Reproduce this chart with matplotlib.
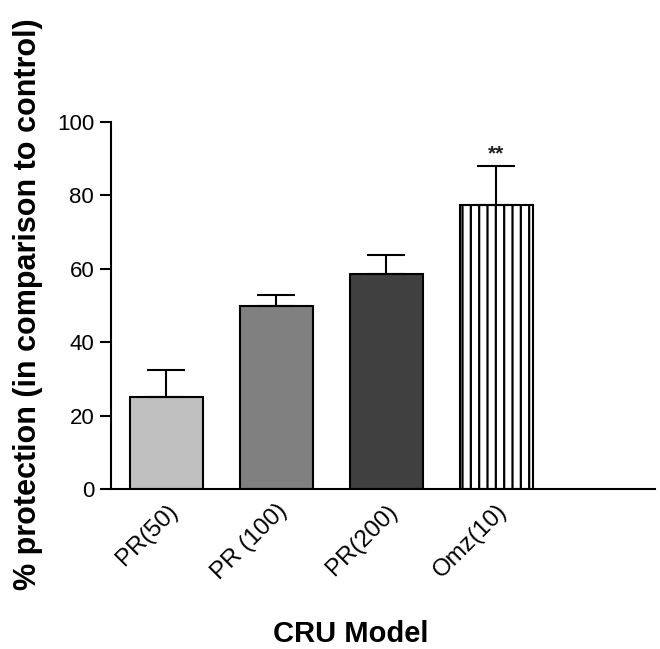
import matplotlib
matplotlib.use("Agg")
import matplotlib.pyplot as plt
import numpy as np

categories = ["PR(50)", "PR (100)", "PR(200)", "Omz(10)"]
values = [25.0, 50.0, 58.5, 77.5]
errors = [7.5, 3.0, 5.3, 10.5]
colors = ["#c0c0c0", "#808080", "#404040", "#ffffff"]
hatches = ["", "", "", "||"]
significance = ["", "", "", "**"]
yticks = [0, 20, 40, 60, 80, 100]

plt.rcParams["font.family"] = ["Liberation Sans", "DejaVu Sans"]
plt.rcParams["hatch.linewidth"] = 1.6
plt.rcParams["hatch.color"] = "black"

fig = plt.figure(figsize=(6.6, 6.49), dpi=100)
ax = fig.add_axes([0.168, 0.2465, 0.824, 0.5655])

x = np.arange(len(categories))
width = 0.664
bars = ax.bar(x, values, width=width, color=colors, edgecolor="black",
              linewidth=1.5, zorder=2)
for b, h in zip(bars, hatches):
    b.set_hatch(h)
ax.errorbar(x, values, yerr=[np.zeros(len(errors)), errors], fmt="none",
            ecolor="black", elinewidth=1.5, capsize=14, capthick=1.5, zorder=3)
for xi, v, e, s in zip(x, values, errors, significance):
    if s:
        ax.text(xi, v + e + 0.6, s, ha="center", va="bottom", fontsize=15,
                fontweight="bold", color="#222222")

ax.set_xlim(-0.505, 4.44)
ax.set_ylim(0, 100)
ax.set_yticks(yticks)
ax.set_xticks(x)
ax.set_xticklabels(categories, rotation=45, ha="right", rotation_mode="anchor",
                   fontsize=17.5)
ax.tick_params(axis="x", length=0, pad=8)
ax.tick_params(axis="y", length=8, width=1.5, labelsize=16, pad=4)
for s in ["top", "right"]:
    ax.spines[s].set_visible(False)
for s in ["left", "bottom"]:
    ax.spines[s].set_linewidth(1.5)

fig.text(0.042, 0.532, "% protection (in comparison to control)", rotation=90,
         ha="center", va="center", fontsize=22, fontweight="bold")
fig.text(0.532, 0.011, "CRU Model", ha="center", va="baseline", fontsize=21,
         fontweight="bold")

fig.savefig("out.png", dpi=100)
